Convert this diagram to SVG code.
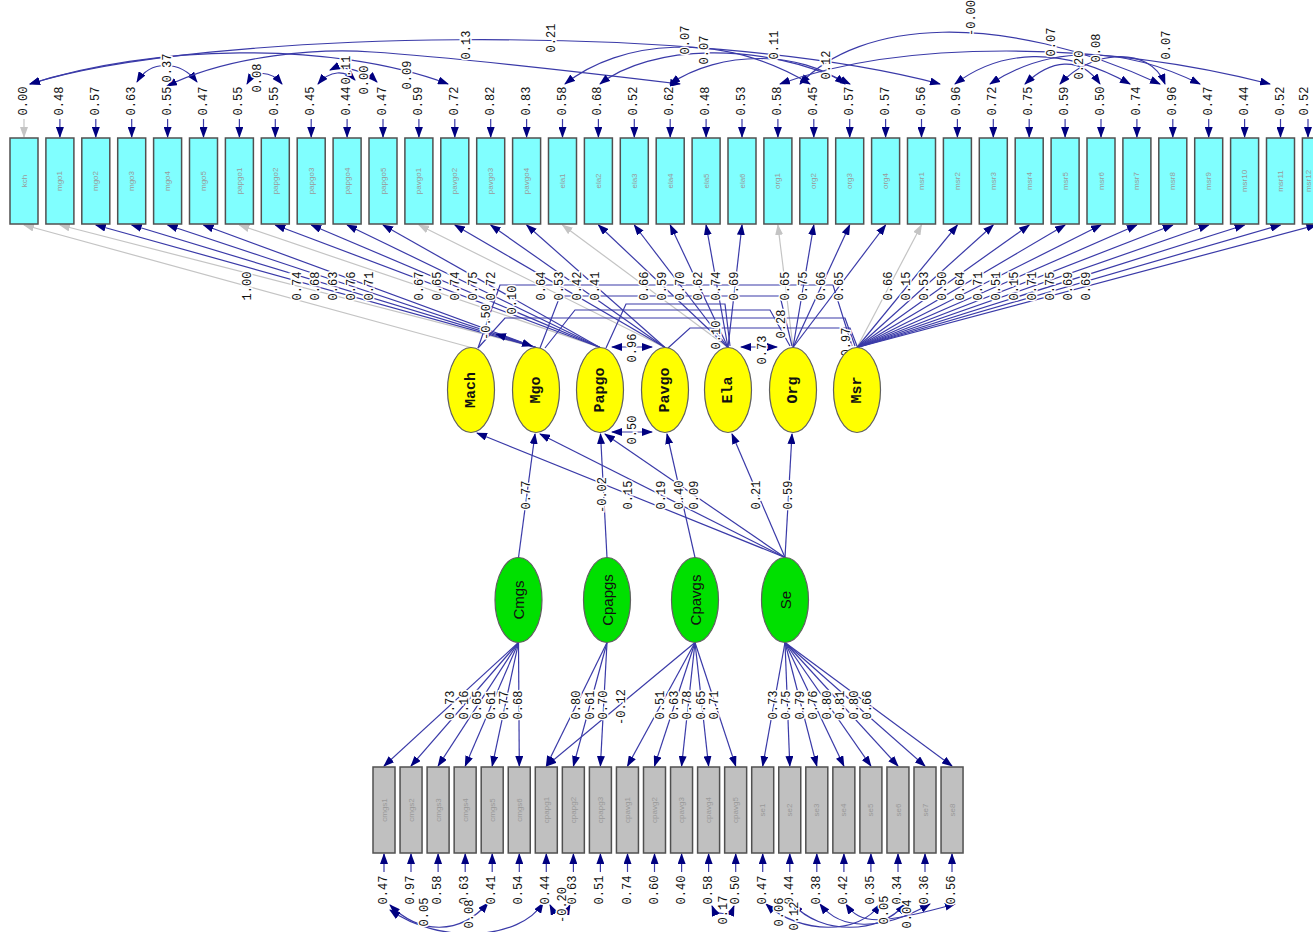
<svg xmlns="http://www.w3.org/2000/svg" width="1313" height="932" viewBox="0 0 1313 932">
<defs>
<marker id="ah" markerUnits="userSpaceOnUse" markerWidth="11" markerHeight="8" refX="10" refY="4" orient="auto"><path d="M0,0 L11,4 L0,8 z" fill="#000080"/></marker>
<marker id="as" markerUnits="userSpaceOnUse" markerWidth="11" markerHeight="8" refX="10" refY="4" orient="auto-start-reverse"><path d="M0,0 L11,4 L0,8 z" fill="#000080"/></marker>
<marker id="ag" markerUnits="userSpaceOnUse" markerWidth="11" markerHeight="8" refX="10" refY="4" orient="auto"><path d="M0,0 L11,4 L0,8 z" fill="#c4c4c4"/></marker>
<style>
.cy{fill:#80ffff;stroke:#505050;stroke-width:1.5}
.gb{fill:#c0c0c0;stroke:#505050;stroke-width:1.5}
.ye{fill:#ffff00;stroke:#606060;stroke-width:1.2}
.ge{fill:#00e000;stroke:#606060;stroke-width:1.2}
.ln{stroke:#3a3aa8;stroke-width:1.2;fill:none;marker-end:url(#ah)}
.lg{stroke:#c4c4c4;stroke-width:1.2;fill:none;marker-end:url(#ag)}
.cv{stroke:#3a3aa8;stroke-width:1.2;fill:none;marker-start:url(#as);marker-end:url(#ah)}
.pl{stroke:#3a3aa8;stroke-width:1.2;fill:none}
.t{font-family:"Liberation Mono",monospace;font-size:12px;fill:#111;text-anchor:middle;dominant-baseline:central;stroke:#fff;stroke-width:3;paint-order:stroke}
.bl{font-family:"Liberation Sans",sans-serif;font-size:8px;fill:#999;text-anchor:middle;dominant-baseline:central}
.yt{font-family:"Liberation Mono",monospace;font-weight:bold;font-size:15px;fill:#111;text-anchor:middle;dominant-baseline:central}
.gt{font-family:"Liberation Sans",sans-serif;font-size:15px;fill:#111;text-anchor:middle;dominant-baseline:central}
</style>
</defs>
<rect width="1313" height="932" fill="#fff"/>

<g id="connectors">
<!-- top loadings -->
<path class="lg" d="M471,347.5 L24,225"/>
<path class="lg" d="M536,347.5 L59.9,225"/>
<path class="ln" d="M536,347.5 L95.8,225"/>
<path class="ln" d="M536,347.5 L131.7,225"/>
<path class="ln" d="M536,347.5 L167.6,225"/>
<path class="ln" d="M536,347.5 L203.5,225"/>
<path class="lg" d="M600,347.5 L239.4,225"/>
<path class="ln" d="M600,347.5 L275.3,225"/>
<path class="ln" d="M600,347.5 L311.2,225"/>
<path class="ln" d="M600,347.5 L347.1,225"/>
<path class="ln" d="M600,347.5 L383,225"/>
<path class="lg" d="M665,347.5 L418.9,225"/>
<path class="ln" d="M665,347.5 L454.8,225"/>
<path class="ln" d="M665,347.5 L490.7,225"/>
<path class="ln" d="M665,347.5 L526.6,225"/>
<path class="lg" d="M728,347.5 L562.5,225"/>
<path class="ln" d="M728,347.5 L598.4,225"/>
<path class="ln" d="M728,347.5 L634.3,225"/>
<path class="ln" d="M728,347.5 L670.2,225"/>
<path class="ln" d="M728,347.5 L706.1,225"/>
<path class="ln" d="M728,347.5 L742,225"/>
<path class="lg" d="M793,347.5 L777.9,225"/>
<path class="ln" d="M793,347.5 L813.8,225"/>
<path class="ln" d="M793,347.5 L849.7,225"/>
<path class="ln" d="M793,347.5 L885.6,225"/>
<path class="lg" d="M857,347.5 L921.5,225"/>
<path class="ln" d="M857,347.5 L957.4,225"/>
<path class="ln" d="M857,347.5 L993.3,225"/>
<path class="ln" d="M857,347.5 L1029.2,225"/>
<path class="ln" d="M857,347.5 L1065.1,225"/>
<path class="ln" d="M857,347.5 L1101,225"/>
<path class="ln" d="M857,347.5 L1136.9,225"/>
<path class="ln" d="M857,347.5 L1172.8,225"/>
<path class="ln" d="M857,347.5 L1208.7,225"/>
<path class="ln" d="M857,347.5 L1244.6,225"/>
<path class="ln" d="M857,347.5 L1280.5,225"/>
<path class="ln" d="M857,347.5 L1316.4,225"/>
<!-- latent covariances -->
<path class="pl" d="M478,348 L500,285 L833,285 L852,346"/>
<path class="pl" d="M540,348 L560,296 L780,296 L792,346"/>
<path class="pl" d="M606,348 L626,304 L725,304 L730,346"/>
<path class="pl" d="M478,348 L505,318 L845,318 L855,346"/>
<path class="pl" d="M668,348 L690,328 L850,328 L857,346"/>
<path class="pl" d="M545,348 L575,310 L770,310 L790,346"/>
<path class="cv" d="M496,334 L532,346"/>
<path class="cv" d="M612,347 L652,347"/>
<path class="cv" d="M741,347 L777,347"/>
<path class="cv" d="M612,432 L652,432"/>
<!-- structural -->
<path class="ln" d="M518.5,557.5 L535,434"/>
<path class="ln" d="M607,557.5 L600.5,434"/>
<path class="ln" d="M695,557.5 L667,434"/>
<path class="ln" d="M785,557.5 L477,433"/>
<path class="ln" d="M785,557.5 L540,434"/>
<path class="ln" d="M785,557.5 L605,434"/>
<path class="ln" d="M785,557.5 L732,434"/>
<path class="ln" d="M785,557.5 L792,434"/>
<!-- bottom loadings -->
<path class="ln" d="M518.5,642.5 L384,766"/>
<path class="ln" d="M518.5,642.5 L411,766"/>
<path class="ln" d="M518.5,642.5 L438.1,766"/>
<path class="ln" d="M518.5,642.5 L465.2,766"/>
<path class="ln" d="M518.5,642.5 L492.2,766"/>
<path class="ln" d="M518.5,642.5 L519.3,766"/>
<path class="ln" d="M607,642.5 L546.3,766"/>
<path class="ln" d="M607,642.5 L573.4,766"/>
<path class="ln" d="M607,642.5 L600.4,766"/>
<path class="ln" d="M695,642.5 L546.3,766"/>
<path class="ln" d="M695,642.5 L627.5,766"/>
<path class="ln" d="M695,642.5 L654.5,766"/>
<path class="ln" d="M695,642.5 L681.6,766"/>
<path class="ln" d="M695,642.5 L708.6,766"/>
<path class="ln" d="M695,642.5 L735.7,766"/>
<path class="ln" d="M785,642.5 L762.7,766"/>
<path class="ln" d="M785,642.5 L789.8,766"/>
<path class="ln" d="M785,642.5 L816.8,766"/>
<path class="ln" d="M785,642.5 L843.9,766"/>
<path class="ln" d="M785,642.5 L870.9,766"/>
<path class="ln" d="M785,642.5 L898,766"/>
<path class="ln" d="M785,642.5 L925,766"/>
<path class="ln" d="M785,642.5 L952,766"/>
<!-- top error arrows -->
<path class="lg" d="M24,119 L24,137"/>
<path class="ln" d="M59.9,119 L59.9,137"/><path class="ln" d="M95.8,119 L95.8,137"/><path class="ln" d="M131.7,119 L131.7,137"/><path class="ln" d="M167.6,119 L167.6,137"/><path class="ln" d="M203.5,119 L203.5,137"/><path class="ln" d="M239.4,119 L239.4,137"/><path class="ln" d="M275.3,119 L275.3,137"/><path class="ln" d="M311.2,119 L311.2,137"/><path class="ln" d="M347.1,119 L347.1,137"/><path class="ln" d="M383,119 L383,137"/><path class="ln" d="M418.9,119 L418.9,137"/><path class="ln" d="M454.8,119 L454.8,137"/><path class="ln" d="M490.7,119 L490.7,137"/><path class="ln" d="M526.6,119 L526.6,137"/><path class="ln" d="M562.5,119 L562.5,137"/><path class="ln" d="M598.4,119 L598.4,137"/><path class="ln" d="M634.3,119 L634.3,137"/><path class="ln" d="M670.2,119 L670.2,137"/><path class="ln" d="M706.1,119 L706.1,137"/><path class="ln" d="M742,119 L742,137"/><path class="ln" d="M777.9,119 L777.9,137"/><path class="ln" d="M813.8,119 L813.8,137"/><path class="ln" d="M849.7,119 L849.7,137"/><path class="ln" d="M885.6,119 L885.6,137"/><path class="ln" d="M921.5,119 L921.5,137"/><path class="ln" d="M957.4,119 L957.4,137"/><path class="ln" d="M993.3,119 L993.3,137"/><path class="ln" d="M1029.2,119 L1029.2,137"/><path class="ln" d="M1065.1,119 L1065.1,137"/><path class="ln" d="M1101,119 L1101,137"/><path class="ln" d="M1136.9,119 L1136.9,137"/><path class="ln" d="M1172.8,119 L1172.8,137"/><path class="ln" d="M1208.7,119 L1208.7,137"/><path class="ln" d="M1244.6,119 L1244.6,137"/><path class="ln" d="M1280.5,119 L1280.5,137"/><path class="ln" d="M1308,119 L1308,137"/>
<!-- bottom error arrows -->
<path class="ln" d="M384,872 L384,854"/><path class="ln" d="M411,872 L411,854"/><path class="ln" d="M438.1,872 L438.1,854"/><path class="ln" d="M465.2,872 L465.2,854"/><path class="ln" d="M492.2,872 L492.2,854"/><path class="ln" d="M519.3,872 L519.3,854"/><path class="ln" d="M546.3,872 L546.3,854"/><path class="ln" d="M573.4,872 L573.4,854"/><path class="ln" d="M600.4,872 L600.4,854"/><path class="ln" d="M627.5,872 L627.5,854"/><path class="ln" d="M654.5,872 L654.5,854"/><path class="ln" d="M681.6,872 L681.6,854"/><path class="ln" d="M708.6,872 L708.6,854"/><path class="ln" d="M735.7,872 L735.7,854"/><path class="ln" d="M762.7,872 L762.7,854"/><path class="ln" d="M789.8,872 L789.8,854"/><path class="ln" d="M816.8,872 L816.8,854"/><path class="ln" d="M843.9,872 L843.9,854"/><path class="ln" d="M870.9,872 L870.9,854"/><path class="ln" d="M898,872 L898,854"/><path class="ln" d="M925,872 L925,854"/><path class="ln" d="M952,872 L952,854"/>
<!-- top error covariances (approx) -->
<path class="cv" d="M30,84 C200,30 700,20 940,84"/>
<path class="cv" d="M30,84 C150,45 330,40 448,84"/>
<path class="cv" d="M137,82 C150,60 180,60 197,82"/>
<path class="cv" d="M167,86 C230,55 320,48 372,52 C420,55 480,60 680,84"/>
<path class="cv" d="M247,84 C255,70 270,70 282,84"/>
<path class="cv" d="M318,84 C330,70 345,70 355,80"/>
<path class="cv" d="M377,82 C365,70 340,65 330,70"/>
<path class="cv" d="M565,84 C620,40 720,30 810,84"/>
<path class="cv" d="M600,84 C650,45 760,40 850,84"/>
<path class="cv" d="M670,84 C720,50 800,50 845,84"/>
<path class="cv" d="M800,84 C860,20 1000,10 1160,84"/>
<path class="cv" d="M780,84 C900,40 1100,40 1270,84"/>
<path class="cv" d="M955,84 C1000,50 1060,45 1130,84"/>
<path class="cv" d="M990,84 C1050,45 1120,45 1200,84"/>
<path class="cv" d="M1025,84 C1050,60 1080,55 1100,84"/>
<path class="cv" d="M1060,84 C1090,50 1150,45 1165,84"/>
<!-- bottom error covariances (approx) -->
<path class="cv" d="M390,905 C420,935 460,935 488,903"/>
<path class="cv" d="M390,910 C440,945 520,940 543,903"/>
<path class="cv" d="M550,905 C555,915 565,915 570,905"/>
<path class="cv" d="M712,906 C716,916 730,916 734,906"/>
<path class="cv" d="M766,904 C800,935 860,935 880,904"/>
<path class="cv" d="M793,904 C820,935 880,935 905,904"/>
<path class="cv" d="M820,904 C840,930 880,932 930,904"/>
<path class="cv" d="M846,904 C860,925 880,925 955,904"/>
</g>

<g id="labels">
<text class="t" transform="translate(247.5,286) rotate(-90)">1.00</text>
<text class="t" transform="translate(298,286) rotate(-90)">0.74</text>
<text class="t" transform="translate(316,286) rotate(-90)">0.68</text>
<text class="t" transform="translate(334,286) rotate(-90)">0.63</text>
<text class="t" transform="translate(352,286) rotate(-90)">0.76</text>
<text class="t" transform="translate(370,286) rotate(-90)">0.71</text>
<text class="t" transform="translate(420,286) rotate(-90)">0.67</text>
<text class="t" transform="translate(438,286) rotate(-90)">0.65</text>
<text class="t" transform="translate(456,286) rotate(-90)">0.74</text>
<text class="t" transform="translate(474,286) rotate(-90)">0.75</text>
<text class="t" transform="translate(492,286) rotate(-90)">0.72</text>
<text class="t" transform="translate(542,286) rotate(-90)">0.64</text>
<text class="t" transform="translate(560,286) rotate(-90)">0.53</text>
<text class="t" transform="translate(578,286) rotate(-90)">0.42</text>
<text class="t" transform="translate(596,286) rotate(-90)">0.41</text>
<text class="t" transform="translate(645,286) rotate(-90)">0.66</text>
<text class="t" transform="translate(663,286) rotate(-90)">0.59</text>
<text class="t" transform="translate(681,286) rotate(-90)">0.70</text>
<text class="t" transform="translate(699,286) rotate(-90)">0.62</text>
<text class="t" transform="translate(717,286) rotate(-90)">0.74</text>
<text class="t" transform="translate(735,286) rotate(-90)">0.69</text>
<text class="t" transform="translate(785.5,286) rotate(-90)">0.65</text>
<text class="t" transform="translate(803.5,286) rotate(-90)">0.75</text>
<text class="t" transform="translate(821.5,286) rotate(-90)">0.66</text>
<text class="t" transform="translate(839.5,286) rotate(-90)">0.65</text>
<text class="t" transform="translate(889,286) rotate(-90)">0.66</text>
<text class="t" transform="translate(907,286) rotate(-90)">0.15</text>
<text class="t" transform="translate(925,286) rotate(-90)">0.53</text>
<text class="t" transform="translate(943,286) rotate(-90)">0.50</text>
<text class="t" transform="translate(961,286) rotate(-90)">0.64</text>
<text class="t" transform="translate(979,286) rotate(-90)">0.71</text>
<text class="t" transform="translate(997,286) rotate(-90)">0.51</text>
<text class="t" transform="translate(1015,286) rotate(-90)">0.15</text>
<text class="t" transform="translate(1033,286) rotate(-90)">0.71</text>
<text class="t" transform="translate(1051,286) rotate(-90)">0.75</text>
<text class="t" transform="translate(1069,286) rotate(-90)">0.69</text>
<text class="t" transform="translate(1087,286) rotate(-90)">0.69</text>
<!-- latent covariance labels -->
<text class="t" transform="translate(487,322) rotate(-90)">-0.50</text>
<text class="t" transform="translate(513,300) rotate(-90)">0.10</text>
<text class="t" transform="translate(633,348) rotate(-90)">0.96</text>
<text class="t" transform="translate(633,430) rotate(-90)">0.50</text>
<text class="t" transform="translate(717,335) rotate(-90)">0.10</text>
<text class="t" transform="translate(763,350) rotate(-90)">0.73</text>
<text class="t" transform="translate(782,324) rotate(-90)">0.28</text>
<text class="t" transform="translate(847,342) rotate(-90)">0.97</text>
<!-- structural labels -->
<text class="t" transform="translate(527,495) rotate(-90)">0.77</text>
<text class="t" transform="translate(603,495) rotate(-90)">-0.02</text>
<text class="t" transform="translate(629,495) rotate(-90)">0.15</text>
<text class="t" transform="translate(662,495) rotate(-90)">0.19</text>
<text class="t" transform="translate(680,495) rotate(-90)">0.40</text>
<text class="t" transform="translate(695,495) rotate(-90)">0.09</text>
<text class="t" transform="translate(757,495) rotate(-90)">0.21</text>
<text class="t" transform="translate(789,495) rotate(-90)">0.59</text>
<!-- bottom loading labels -->
<text class="t" transform="translate(451,705) rotate(-90)">0.73</text>
<text class="t" transform="translate(465,705) rotate(-90)">0.16</text>
<text class="t" transform="translate(478,705) rotate(-90)">0.65</text>
<text class="t" transform="translate(492,705) rotate(-90)">0.61</text>
<text class="t" transform="translate(505,705) rotate(-90)">0.77</text>
<text class="t" transform="translate(519,705) rotate(-90)">0.68</text>
<text class="t" transform="translate(577,705) rotate(-90)">0.80</text>
<text class="t" transform="translate(591,705) rotate(-90)">0.61</text>
<text class="t" transform="translate(604,705) rotate(-90)">0.70</text>
<text class="t" transform="translate(622,707) rotate(-90)">-0.12</text>
<text class="t" transform="translate(661,705) rotate(-90)">0.51</text>
<text class="t" transform="translate(675,705) rotate(-90)">0.63</text>
<text class="t" transform="translate(688,705) rotate(-90)">0.78</text>
<text class="t" transform="translate(702,705) rotate(-90)">0.65</text>
<text class="t" transform="translate(715,705) rotate(-90)">0.71</text>
<text class="t" transform="translate(774,705) rotate(-90)">0.73</text>
<text class="t" transform="translate(787,705) rotate(-90)">0.75</text>
<text class="t" transform="translate(801,705) rotate(-90)">0.79</text>
<text class="t" transform="translate(814,705) rotate(-90)">0.76</text>
<text class="t" transform="translate(828,705) rotate(-90)">0.80</text>
<text class="t" transform="translate(841,705) rotate(-90)">0.81</text>
<text class="t" transform="translate(855,705) rotate(-90)">0.80</text>
<text class="t" transform="translate(868,705) rotate(-90)">0.66</text>
<!-- top error labels -->
<text class="t" transform="translate(24,101) rotate(-90)">0.00</text>
<text class="t" transform="translate(59.9,101) rotate(-90)">0.48</text>
<text class="t" transform="translate(95.8,101) rotate(-90)">0.57</text>
<text class="t" transform="translate(131.7,101) rotate(-90)">0.63</text>
<text class="t" transform="translate(167.6,101) rotate(-90)">0.55</text>
<text class="t" transform="translate(203.5,101) rotate(-90)">0.47</text>
<text class="t" transform="translate(239.4,101) rotate(-90)">0.55</text>
<text class="t" transform="translate(275.3,101) rotate(-90)">0.55</text>
<text class="t" transform="translate(311.2,101) rotate(-90)">0.45</text>
<text class="t" transform="translate(347.1,101) rotate(-90)">0.44</text>
<text class="t" transform="translate(383,101) rotate(-90)">0.47</text>
<text class="t" transform="translate(418.9,101) rotate(-90)">0.59</text>
<text class="t" transform="translate(454.8,101) rotate(-90)">0.72</text>
<text class="t" transform="translate(490.7,101) rotate(-90)">0.82</text>
<text class="t" transform="translate(526.6,101) rotate(-90)">0.83</text>
<text class="t" transform="translate(562.5,101) rotate(-90)">0.58</text>
<text class="t" transform="translate(598.4,101) rotate(-90)">0.68</text>
<text class="t" transform="translate(634.3,101) rotate(-90)">0.52</text>
<text class="t" transform="translate(670.2,101) rotate(-90)">0.62</text>
<text class="t" transform="translate(706.1,101) rotate(-90)">0.48</text>
<text class="t" transform="translate(742,101) rotate(-90)">0.53</text>
<text class="t" transform="translate(777.9,101) rotate(-90)">0.58</text>
<text class="t" transform="translate(813.8,101) rotate(-90)">0.45</text>
<text class="t" transform="translate(849.7,101) rotate(-90)">0.57</text>
<text class="t" transform="translate(885.6,101) rotate(-90)">0.57</text>
<text class="t" transform="translate(921.5,101) rotate(-90)">0.56</text>
<text class="t" transform="translate(957.4,101) rotate(-90)">0.96</text>
<text class="t" transform="translate(993.3,101) rotate(-90)">0.72</text>
<text class="t" transform="translate(1029.2,101) rotate(-90)">0.75</text>
<text class="t" transform="translate(1065.1,101) rotate(-90)">0.59</text>
<text class="t" transform="translate(1101,101) rotate(-90)">0.50</text>
<text class="t" transform="translate(1136.9,101) rotate(-90)">0.74</text>
<text class="t" transform="translate(1172.8,101) rotate(-90)">0.96</text>
<text class="t" transform="translate(1208.7,101) rotate(-90)">0.47</text>
<text class="t" transform="translate(1244.6,101) rotate(-90)">0.44</text>
<text class="t" transform="translate(1280.5,101) rotate(-90)">0.52</text>
<text class="t" transform="translate(1305,101) rotate(-90)">0.52</text>
<!-- top covariance labels (approx) -->
<text class="t" transform="translate(552,38) rotate(-90)">0.21</text>
<text class="t" transform="translate(467,45) rotate(-90)">0.13</text>
<text class="t" transform="translate(168,68) rotate(-90)">0.37</text>
<text class="t" transform="translate(258,78) rotate(-90)">0.08</text>
<text class="t" transform="translate(347,70) rotate(-90)">0.11</text>
<text class="t" transform="translate(365,80) rotate(-90)">0.00</text>
<text class="t" transform="translate(408,75) rotate(-90)">0.09</text>
<text class="t" transform="translate(686,40) rotate(-90)">0.07</text>
<text class="t" transform="translate(705,50) rotate(-90)">0.07</text>
<text class="t" transform="translate(775,45) rotate(-90)">0.11</text>
<text class="t" transform="translate(827,65) rotate(-90)">0.12</text>
<text class="t" transform="translate(972,18) rotate(-90)">-0.00</text>
<text class="t" transform="translate(1052,42) rotate(-90)">0.07</text>
<text class="t" transform="translate(1080,65) rotate(-90)">0.20</text>
<text class="t" transform="translate(1097,48) rotate(-90)">0.08</text>
<text class="t" transform="translate(1167,45) rotate(-90)">0.07</text>
<!-- bottom error labels -->
<text class="t" transform="translate(384,890) rotate(-90)">0.47</text>
<text class="t" transform="translate(411,890) rotate(-90)">0.97</text>
<text class="t" transform="translate(438.1,890) rotate(-90)">0.58</text>
<text class="t" transform="translate(465.2,890) rotate(-90)">0.63</text>
<text class="t" transform="translate(492.2,890) rotate(-90)">0.41</text>
<text class="t" transform="translate(519.3,890) rotate(-90)">0.54</text>
<text class="t" transform="translate(546.3,890) rotate(-90)">0.44</text>
<text class="t" transform="translate(573.4,890) rotate(-90)">0.63</text>
<text class="t" transform="translate(600.4,890) rotate(-90)">0.51</text>
<text class="t" transform="translate(627.5,890) rotate(-90)">0.74</text>
<text class="t" transform="translate(654.5,890) rotate(-90)">0.60</text>
<text class="t" transform="translate(681.6,890) rotate(-90)">0.40</text>
<text class="t" transform="translate(708.6,890) rotate(-90)">0.58</text>
<text class="t" transform="translate(735.7,890) rotate(-90)">0.50</text>
<text class="t" transform="translate(762.7,890) rotate(-90)">0.47</text>
<text class="t" transform="translate(789.8,890) rotate(-90)">0.44</text>
<text class="t" transform="translate(816.8,890) rotate(-90)">0.38</text>
<text class="t" transform="translate(843.9,890) rotate(-90)">0.42</text>
<text class="t" transform="translate(870.9,890) rotate(-90)">0.35</text>
<text class="t" transform="translate(898,890) rotate(-90)">0.34</text>
<text class="t" transform="translate(925,890) rotate(-90)">0.36</text>
<text class="t" transform="translate(952,890) rotate(-90)">0.56</text>
<text class="t" transform="translate(425,912) rotate(-90)">0.05</text>
<text class="t" transform="translate(470,914) rotate(-90)">0.08</text>
<text class="t" transform="translate(563,905) rotate(-90)">-0.20</text>
<text class="t" transform="translate(724,910) rotate(-90)">0.17</text>
<text class="t" transform="translate(780,912) rotate(-90)">0.06</text>
<text class="t" transform="translate(795,916) rotate(-90)">0.12</text>
<text class="t" transform="translate(885,910) rotate(-90)">0.05</text>
<text class="t" transform="translate(908,914) rotate(-90)">0.04</text>
</g>

<g id="top-boxes">
<g id="kch"><rect class="cy" x="10" y="138" width="28" height="86"/><text class="bl" transform="translate(24,181) rotate(-90)">kch</text></g>
<g id="mgo1"><rect class="cy" x="45.9" y="138" width="28" height="86"/><text class="bl" transform="translate(59.9,181) rotate(-90)">mgo1</text></g>
<g id="mgo2"><rect class="cy" x="81.8" y="138" width="28" height="86"/><text class="bl" transform="translate(95.8,181) rotate(-90)">mgo2</text></g>
<g id="mgo3"><rect class="cy" x="117.7" y="138" width="28" height="86"/><text class="bl" transform="translate(131.7,181) rotate(-90)">mgo3</text></g>
<g id="mgo4"><rect class="cy" x="153.6" y="138" width="28" height="86"/><text class="bl" transform="translate(167.6,181) rotate(-90)">mgo4</text></g>
<g id="mgo5"><rect class="cy" x="189.5" y="138" width="28" height="86"/><text class="bl" transform="translate(203.5,181) rotate(-90)">mgo5</text></g>
<g id="papgo1"><rect class="cy" x="225.4" y="138" width="28" height="86"/><text class="bl" transform="translate(239.4,181) rotate(-90)">papgo1</text></g>
<g id="papgo2"><rect class="cy" x="261.3" y="138" width="28" height="86"/><text class="bl" transform="translate(275.3,181) rotate(-90)">papgo2</text></g>
<g id="papgo3"><rect class="cy" x="297.2" y="138" width="28" height="86"/><text class="bl" transform="translate(311.2,181) rotate(-90)">papgo3</text></g>
<g id="papgo4"><rect class="cy" x="333.1" y="138" width="28" height="86"/><text class="bl" transform="translate(347.1,181) rotate(-90)">papgo4</text></g>
<g id="papgo5"><rect class="cy" x="369" y="138" width="28" height="86"/><text class="bl" transform="translate(383,181) rotate(-90)">papgo5</text></g>
<g id="pavgo1"><rect class="cy" x="404.9" y="138" width="28" height="86"/><text class="bl" transform="translate(418.9,181) rotate(-90)">pavgo1</text></g>
<g id="pavgo2"><rect class="cy" x="440.8" y="138" width="28" height="86"/><text class="bl" transform="translate(454.8,181) rotate(-90)">pavgo2</text></g>
<g id="pavgo3"><rect class="cy" x="476.7" y="138" width="28" height="86"/><text class="bl" transform="translate(490.7,181) rotate(-90)">pavgo3</text></g>
<g id="pavgo4"><rect class="cy" x="512.6" y="138" width="28" height="86"/><text class="bl" transform="translate(526.6,181) rotate(-90)">pavgo4</text></g>
<g id="ela1"><rect class="cy" x="548.5" y="138" width="28" height="86"/><text class="bl" transform="translate(562.5,181) rotate(-90)">ela1</text></g>
<g id="ela2"><rect class="cy" x="584.4" y="138" width="28" height="86"/><text class="bl" transform="translate(598.4,181) rotate(-90)">ela2</text></g>
<g id="ela3"><rect class="cy" x="620.3" y="138" width="28" height="86"/><text class="bl" transform="translate(634.3,181) rotate(-90)">ela3</text></g>
<g id="ela4"><rect class="cy" x="656.2" y="138" width="28" height="86"/><text class="bl" transform="translate(670.2,181) rotate(-90)">ela4</text></g>
<g id="ela5"><rect class="cy" x="692.1" y="138" width="28" height="86"/><text class="bl" transform="translate(706.1,181) rotate(-90)">ela5</text></g>
<g id="ela6"><rect class="cy" x="728" y="138" width="28" height="86"/><text class="bl" transform="translate(742,181) rotate(-90)">ela6</text></g>
<g id="org1"><rect class="cy" x="763.9" y="138" width="28" height="86"/><text class="bl" transform="translate(777.9,181) rotate(-90)">org1</text></g>
<g id="org2"><rect class="cy" x="799.8" y="138" width="28" height="86"/><text class="bl" transform="translate(813.8,181) rotate(-90)">org2</text></g>
<g id="org3"><rect class="cy" x="835.7" y="138" width="28" height="86"/><text class="bl" transform="translate(849.7,181) rotate(-90)">org3</text></g>
<g id="org4"><rect class="cy" x="871.6" y="138" width="28" height="86"/><text class="bl" transform="translate(885.6,181) rotate(-90)">org4</text></g>
<g id="msr1"><rect class="cy" x="907.5" y="138" width="28" height="86"/><text class="bl" transform="translate(921.5,181) rotate(-90)">msr1</text></g>
<g id="msr2"><rect class="cy" x="943.4" y="138" width="28" height="86"/><text class="bl" transform="translate(957.4,181) rotate(-90)">msr2</text></g>
<g id="msr3"><rect class="cy" x="979.3" y="138" width="28" height="86"/><text class="bl" transform="translate(993.3,181) rotate(-90)">msr3</text></g>
<g id="msr4"><rect class="cy" x="1015.2" y="138" width="28" height="86"/><text class="bl" transform="translate(1029.2,181) rotate(-90)">msr4</text></g>
<g id="msr5"><rect class="cy" x="1051.1" y="138" width="28" height="86"/><text class="bl" transform="translate(1065.1,181) rotate(-90)">msr5</text></g>
<g id="msr6"><rect class="cy" x="1087" y="138" width="28" height="86"/><text class="bl" transform="translate(1101,181) rotate(-90)">msr6</text></g>
<g id="msr7"><rect class="cy" x="1122.9" y="138" width="28" height="86"/><text class="bl" transform="translate(1136.9,181) rotate(-90)">msr7</text></g>
<g id="msr8"><rect class="cy" x="1158.8" y="138" width="28" height="86"/><text class="bl" transform="translate(1172.8,181) rotate(-90)">msr8</text></g>
<g id="msr9"><rect class="cy" x="1194.7" y="138" width="28" height="86"/><text class="bl" transform="translate(1208.7,181) rotate(-90)">msr9</text></g>
<g id="msr10"><rect class="cy" x="1230.6" y="138" width="28" height="86"/><text class="bl" transform="translate(1244.6,181) rotate(-90)">msr10</text></g>
<g id="msr11"><rect class="cy" x="1266.5" y="138" width="28" height="86"/><text class="bl" transform="translate(1280.5,181) rotate(-90)">msr11</text></g>
<g id="msr12"><rect class="cy" x="1302.4" y="138" width="28" height="86"/><text class="bl" transform="translate(1308,181) rotate(-90)">msr12</text></g>
</g>

<g id="eta">
<g id="Mach"><ellipse class="ye" cx="471" cy="390" rx="23.5" ry="42.5"/><text class="yt" transform="translate(471,390) rotate(-90)">Mach</text></g>
<g id="Mgo"><ellipse class="ye" cx="536" cy="390" rx="23.5" ry="42.5"/><text class="yt" transform="translate(536,390) rotate(-90)">Mgo</text></g>
<g id="Papgo"><ellipse class="ye" cx="600" cy="390" rx="23.5" ry="42.5"/><text class="yt" transform="translate(600,390) rotate(-90)">Papgo</text></g>
<g id="Pavgo"><ellipse class="ye" cx="665" cy="390" rx="23.5" ry="42.5"/><text class="yt" transform="translate(665,390) rotate(-90)">Pavgo</text></g>
<g id="Ela"><ellipse class="ye" cx="728" cy="390" rx="23.5" ry="42.5"/><text class="yt" transform="translate(728,390) rotate(-90)">Ela</text></g>
<g id="Org"><ellipse class="ye" cx="793" cy="390" rx="23.5" ry="42.5"/><text class="yt" transform="translate(793,390) rotate(-90)">Org</text></g>
<g id="Msr"><ellipse class="ye" cx="857" cy="390" rx="23.5" ry="42.5"/><text class="yt" transform="translate(857,390) rotate(-90)">Msr</text></g>
</g>

<g id="ksi">
<g id="Cmgs"><ellipse class="ge" cx="518.5" cy="600" rx="23.5" ry="42.5"/><text class="gt" transform="translate(518.5,600) rotate(-90)">Cmgs</text></g>
<g id="Cpapgs"><ellipse class="ge" cx="607" cy="600" rx="23.5" ry="42.5"/><text class="gt" transform="translate(607,600) rotate(-90)">Cpapgs</text></g>
<g id="Cpavgs"><ellipse class="ge" cx="695" cy="600" rx="23.5" ry="42.5"/><text class="gt" transform="translate(695,600) rotate(-90)">Cpavgs</text></g>
<g id="Se"><ellipse class="ge" cx="785" cy="600" rx="23.5" ry="42.5"/><text class="gt" transform="translate(785,600) rotate(-90)">Se</text></g>
</g>

<g id="bottom-boxes">
<g id="cmgs1"><rect class="gb" x="373" y="767" width="22" height="86"/><text class="bl" transform="translate(384,810) rotate(-90)">cmgs1</text></g>
<g id="cmgs2"><rect class="gb" x="400.05" y="767" width="22" height="86"/><text class="bl" transform="translate(411,810) rotate(-90)">cmgs2</text></g>
<g id="cmgs3"><rect class="gb" x="427.1" y="767" width="22" height="86"/><text class="bl" transform="translate(438.1,810) rotate(-90)">cmgs3</text></g>
<g id="cmgs4"><rect class="gb" x="454.15" y="767" width="22" height="86"/><text class="bl" transform="translate(465.2,810) rotate(-90)">cmgs4</text></g>
<g id="cmgs5"><rect class="gb" x="481.2" y="767" width="22" height="86"/><text class="bl" transform="translate(492.2,810) rotate(-90)">cmgs5</text></g>
<g id="cmgs6"><rect class="gb" x="508.25" y="767" width="22" height="86"/><text class="bl" transform="translate(519.3,810) rotate(-90)">cmgs6</text></g>
<g id="cpapg1"><rect class="gb" x="535.3" y="767" width="22" height="86"/><text class="bl" transform="translate(546.3,810) rotate(-90)">cpapg1</text></g>
<g id="cpapg2"><rect class="gb" x="562.35" y="767" width="22" height="86"/><text class="bl" transform="translate(573.4,810) rotate(-90)">cpapg2</text></g>
<g id="cpapg3"><rect class="gb" x="589.4" y="767" width="22" height="86"/><text class="bl" transform="translate(600.4,810) rotate(-90)">cpapg3</text></g>
<g id="cpavg1"><rect class="gb" x="616.45" y="767" width="22" height="86"/><text class="bl" transform="translate(627.5,810) rotate(-90)">cpavg1</text></g>
<g id="cpavg2"><rect class="gb" x="643.5" y="767" width="22" height="86"/><text class="bl" transform="translate(654.5,810) rotate(-90)">cpavg2</text></g>
<g id="cpavg3"><rect class="gb" x="670.55" y="767" width="22" height="86"/><text class="bl" transform="translate(681.6,810) rotate(-90)">cpavg3</text></g>
<g id="cpavg4"><rect class="gb" x="697.6" y="767" width="22" height="86"/><text class="bl" transform="translate(708.6,810) rotate(-90)">cpavg4</text></g>
<g id="cpavg5"><rect class="gb" x="724.65" y="767" width="22" height="86"/><text class="bl" transform="translate(735.7,810) rotate(-90)">cpavg5</text></g>
<g id="se1"><rect class="gb" x="751.7" y="767" width="22" height="86"/><text class="bl" transform="translate(762.7,810) rotate(-90)">se1</text></g>
<g id="se2"><rect class="gb" x="778.75" y="767" width="22" height="86"/><text class="bl" transform="translate(789.8,810) rotate(-90)">se2</text></g>
<g id="se3"><rect class="gb" x="805.8" y="767" width="22" height="86"/><text class="bl" transform="translate(816.8,810) rotate(-90)">se3</text></g>
<g id="se4"><rect class="gb" x="832.85" y="767" width="22" height="86"/><text class="bl" transform="translate(843.9,810) rotate(-90)">se4</text></g>
<g id="se5"><rect class="gb" x="859.9" y="767" width="22" height="86"/><text class="bl" transform="translate(870.9,810) rotate(-90)">se5</text></g>
<g id="se6"><rect class="gb" x="886.95" y="767" width="22" height="86"/><text class="bl" transform="translate(898,810) rotate(-90)">se6</text></g>
<g id="se7"><rect class="gb" x="914" y="767" width="22" height="86"/><text class="bl" transform="translate(925,810) rotate(-90)">se7</text></g>
<g id="se8"><rect class="gb" x="941.05" y="767" width="22" height="86"/><text class="bl" transform="translate(952,810) rotate(-90)">se8</text></g>
</g>
</svg>
